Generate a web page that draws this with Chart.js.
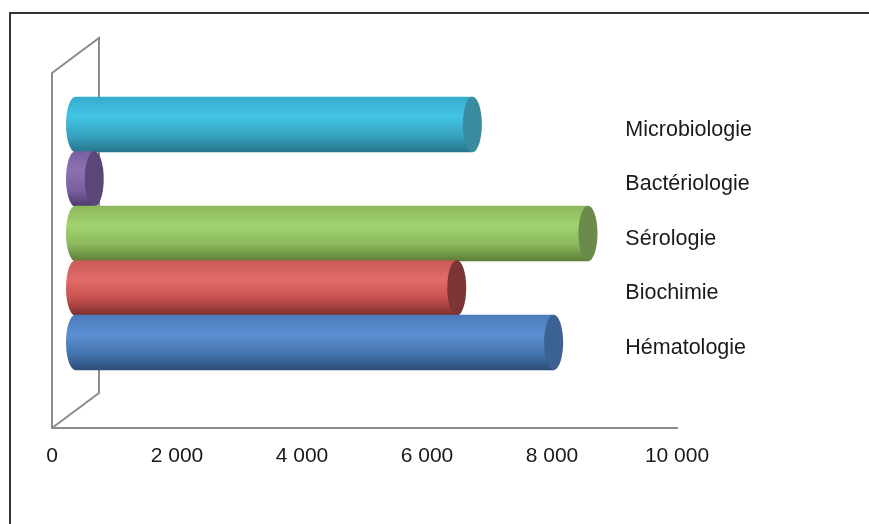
<!DOCTYPE html>
<html>
<head>
<meta charset="utf-8">
<script src="https://cdn.jsdelivr.net/npm/chart.js@4"></script>
<style>
  html, body { margin: 0; padding: 0; background: #fff; overflow: hidden; }
  #frame { position: absolute; left: 9px; top: 12px; width: 900px; height: 600px;
           border-left: 2px solid #333; border-top: 2px solid #333; }
  #c { position: absolute; left: 0; top: 0; }
</style>
</head>
<body>
<div id="frame"></div>
<canvas id="c" width="869" height="524"></canvas>
<script>
// Analyses par discipline (first category sits at the bottom)
const categories = ['Hématologie', 'Biochimie', 'Sérologie', 'Bactériologie', 'Microbiologie'];
const counts = [7650, 6100, 8200, 300, 6350];
const xTickValues = [0, 2000, 4000, 6000, 8000, 10000];

// Cylinder shading: [top edge, highlight, lower body, bottom edge, end cap]
const shades = [
  ['#4a7cbc', '#5b90d2', '#4575b0', '#2b4b78', '#3b6293'],
  ['#c85a58', '#e36b69', '#c4504e', '#7a2e2e', '#7b3535'],
  ['#8cb85c', '#a2d270', '#8bb95c', '#5c7c37', '#6c8a4a'],
  ['#7a60a0', '#8d72b3', '#7a5f9f', '#4d3a6b', '#5a4678'],
  ['#36abcb', '#43c4e4', '#36a3c0', '#26768c', '#3a8b9f']
];

// 3D box depth (back wall offset from the front plane)
const DEPTH_X = 47, DEPTH_Y = -35;

const fmt = v => String(v).replace(/\B(?=(\d{3})+(?!\d))/g, ' ');

const cylinders = {
  id: 'cylinders',
  beforeDatasetsDraw(chart) {
    const ctx = chart.ctx;
    const a = chart.chartArea;
    ctx.save();
    // walls
    ctx.strokeStyle = '#8c8c8c';
    ctx.lineWidth = 2;
    ctx.beginPath();
    ctx.moveTo(a.left, a.bottom);
    ctx.lineTo(a.left, a.top);
    ctx.lineTo(a.left + DEPTH_X, a.top + DEPTH_Y);
    ctx.lineTo(a.left + DEPTH_X, a.bottom + DEPTH_Y);
    ctx.lineTo(a.left, a.bottom);
    ctx.stroke();

    // bars sit in the middle of the depth
    const dx = DEPTH_X / 2, dy = DEPTH_Y / 2;
    const meta = chart.getDatasetMeta(0);
    const order = meta.data.map((el, i) => i).sort((p, q) => meta.data[p].y - meta.data[q].y);
    order.forEach(i => {
      const el = meta.data[i];
      const s = shades[i];
      const x0 = el.base + dx, x1 = el.x + dx, cy = el.y + dy;
      const ry = el.height / 2 + 0.5, rx = 9.5;
      const g = ctx.createLinearGradient(0, cy - ry, 0, cy + ry);
      g.addColorStop(0, s[0]);
      g.addColorStop(0.35, s[1]);
      g.addColorStop(0.7, s[2]);
      g.addColorStop(1, s[3]);
      ctx.fillStyle = g;
      ctx.beginPath();
      ctx.moveTo(x0, cy - ry);
      ctx.lineTo(x1, cy - ry);
      ctx.lineTo(x1, cy + ry);
      ctx.lineTo(x0, cy + ry);
      ctx.ellipse(x0, cy, rx, ry, 0, Math.PI / 2, Math.PI * 1.5);
      ctx.closePath();
      ctx.fill();
      // end cap
      ctx.fillStyle = s[4];
      ctx.beginPath();
      ctx.ellipse(x1, cy, rx, ry, 0, 0, Math.PI * 2);
      ctx.fill();
    });
    ctx.restore();
    return false;
  }
};

new Chart(document.getElementById('c'), {
  type: 'bar',
  data: {
    datasets: [{
      data: counts.map((v, i) => ({ x: v, y: i })),
      backgroundColor: shades.map(s => s[1]),
      barPercentage: 1,
      categoryPercentage: 1
    }]
  },
  options: {
    indexAxis: 'y',
    responsive: false,
    animation: false,
    devicePixelRatio: 1,
    layout: { padding: { top: 73, left: 52, right: 0, bottom: 0 } },
    plugins: { legend: { display: false }, tooltip: { enabled: false } },
    scales: {
      x: {
        type: 'linear',
        position: 'bottom',
        min: 0,
        max: 10000,
        afterBuildTicks: s => { s.ticks = xTickValues.map(v => ({ value: v })); },
        afterFit: s => { s.height = 96; },
        grid: { display: false, drawTicks: false },
        border: { display: true, color: '#8c8c8c', width: 2 },
        ticks: {
          callback: v => fmt(v),
          font: { family: 'Liberation Sans', size: 21 },
          color: '#1a1a1a',
          padding: 16,
          maxRotation: 0,
          autoSkip: false
        }
      },
      y: {
        type: 'linear',
        position: 'right',
        offset: false,
        min: -1.248,
        max: 5.266,
        afterBuildTicks: s => { s.ticks = categories.map((c, i) => ({ value: i })); },
        afterFit: s => { s.width = 192; s.paddingTop = 0; s.paddingBottom = 0; },
        grid: { display: false, drawTicks: false, offset: false },
        border: { display: false },
        ticks: {
          callback: v => categories[v],
          font: { family: 'Liberation Sans', size: 21.5 },
          color: '#1a1a1a',
          mirror: true,
          crossAlign: 'far',
          padding: 75,
          labelOffset: -12,
          autoSkip: false
        }
      }
    }
  },
  plugins: [cylinders]
});
</script>
</body>
</html>
